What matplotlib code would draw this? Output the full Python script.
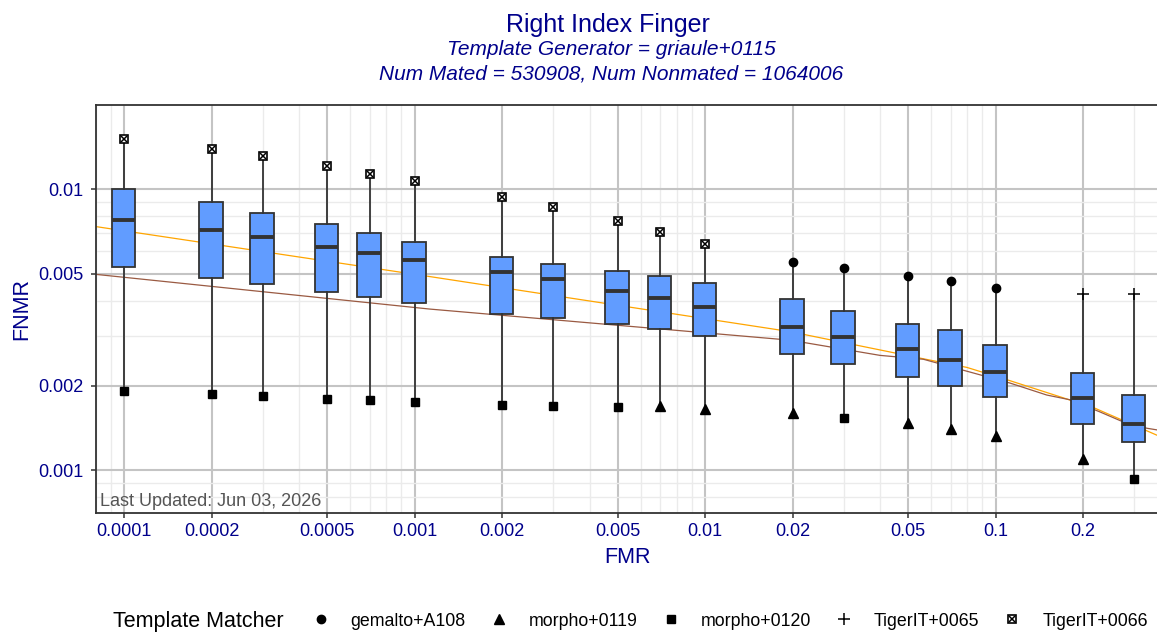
import numpy as np
import matplotlib
matplotlib.use('Agg')
import matplotlib.pyplot as plt
from matplotlib.lines import Line2D
from matplotlib.legend_handler import HandlerTuple
from matplotlib.ticker import FixedLocator, LogLocator, FuncFormatter, NullFormatter

plt.rcParams['font.family'] = ['Liberation Sans', 'DejaVu Sans']

# Box data
fmr = [0.0001, 0.0002, 0.0003, 0.0005, 0.0007, 0.001, 0.002, 0.003, 0.005,
       0.007, 0.01, 0.02, 0.03, 0.05, 0.07, 0.1, 0.2, 0.3]
q1 = [0.00529, 0.00481, 0.00459, 0.00429, 0.00413, 0.00393, 0.0036, 0.00348, 0.0033,
      0.00318, 0.002995, 0.00259, 0.00238, 0.00215, 0.00199, 0.00182, 0.001464, 0.001257]
med = [0.00776, 0.00712, 0.00676, 0.00624, 0.0059, 0.00557, 0.00505, 0.0048, 0.00432,
       0.0041, 0.0038, 0.00324, 0.00298, 0.00269, 0.00246, 0.002226, 0.001805, 0.00146]
q3 = [0.0100, 0.00902, 0.00822, 0.00751, 0.00697, 0.00649, 0.00572, 0.00543, 0.00511,
      0.00491, 0.00464, 0.00405, 0.00368, 0.0033, 0.00314, 0.00278, 0.002213, 0.001845]
hi = [0.01503, 0.01383, 0.01309, 0.01204, 0.01133, 0.01065, 0.00934, 0.00861, 0.00768,
      0.00702, 0.00638, 0.00551, 0.00525, 0.00491, 0.00472, 0.00446, 0.00423, 0.00423]
lo = [0.00191, 0.001864, 0.001834, 0.00179, 0.001776, 0.001746, 0.0017, 0.001686, 0.001673,
      0.001686, 0.001655, 0.0016, 0.001533, 0.001472, 0.001406, 0.001323, 0.001096, 0.000931]
hi_matcher = ['TigerIT+0066'] * 11 + ['gemalto+A108'] * 5 + ['TigerIT+0065'] * 2
lo_matcher = (['morpho+0120'] * 9 + ['morpho+0119'] * 3 + ['morpho+0120']
              + ['morpho+0119'] * 4 + ['morpho+0120'])

matchers = ['gemalto+A108', 'morpho+0119', 'morpho+0120', 'TigerIT+0065', 'TigerIT+0066']

# reference curves
orange_fmr = [8.0e-5, 0.00113, 0.0196, 0.0564, 0.0796, 0.1122, 0.217, 0.36]
orange_fnmr = [0.00735, 0.00488, 0.00311, 0.00249, 0.00232, 0.00208, 0.00167, 0.00133]
brown_fmr = [8.0e-5, 0.00113, 0.0196, 0.0221, 0.040, 0.0564, 0.1122, 0.150, 0.180,
             0.229, 0.2685, 0.331, 0.36]
brown_fnmr = [0.00497, 0.00374, 0.0029, 0.00284, 0.00256, 0.00248, 0.00204, 0.00185,
              0.00178, 0.00161, 0.00150, 0.00141, 0.00139]

navy = '#00008B'
dark = '#333333'

# marker style per matcher
def marker_kw(m):
    if m == 'gemalto+A108':
        return [dict(marker='o', ms=6, mfc='black', mec='black')]
    if m == 'morpho+0119':
        return [dict(marker='^', ms=7, mfc='black', mec='black')]
    if m == 'morpho+0120':
        return [dict(marker='s', ms=5.8, mfc='black', mec='black')]
    if m == 'TigerIT+0065':
        return [dict(marker='+', ms=9, mew=1.1, color='black')]
    return [dict(marker='s', ms=6.4, mfc='white', mec='black', mew=1.2),
            dict(marker='x', ms=3.8, mew=1.1, color='black')]

fig = plt.figure(figsize=(11.57, 6.35), dpi=100)
W, H = 1157, 635
ax = fig.add_axes([96 / W, 1 - 513 / H, (1160 - 96) / W, (513 - 105) / H])
ax.set_xscale('log')
ax.set_yscale('log')
ax.set_xlim(8.0e-5, 0.368)
ax.set_ylim(0.000704, 0.0199)

ax.plot(orange_fmr, orange_fnmr, color='#FFA500', lw=0.9, zorder=2)
ax.plot(brown_fmr, brown_fnmr, color='#9A5A42', lw=0.9, zorder=2)

stats = [dict(med=m, q1=a, q3=b, whislo=l, whishi=h, fliers=[])
         for m, a, b, l, h in zip(med, q1, q3, lo, hi)]
widths = [f * (10 ** 0.0405 - 10 ** -0.0405) for f in fmr]
bp = ax.bxp(stats, positions=fmr, widths=widths, patch_artist=True, showcaps=False,
            manage_ticks=False,
            boxprops=dict(facecolor='#619CFF', edgecolor=dark, linewidth=1.3),
            medianprops=dict(color=dark, linewidth=2.8, solid_capstyle='butt'),
            whiskerprops=dict(color=dark, linewidth=1.3))
for art in bp['boxes'] + bp['medians'] + bp['whiskers']:
    art.set_zorder(3)

for x, y, m in zip(fmr, hi, hi_matcher):
    for kw in marker_kw(m):
        ax.plot([x], [y], ls='none', zorder=4, **kw)
for x, y, m in zip(fmr, lo, lo_matcher):
    for kw in marker_kw(m):
        ax.plot([x], [y], ls='none', zorder=4, **kw)

# axes styling
ax.xaxis.set_major_locator(FixedLocator([1e-4, 2e-4, 5e-4, 1e-3, 2e-3, 5e-3, 0.01, 0.02, 0.05, 0.1, 0.2]))
ax.yaxis.set_major_locator(FixedLocator([0.001, 0.002, 0.005, 0.01]))
fmt = FuncFormatter(lambda v, _: f'{v:g}')
ax.xaxis.set_major_formatter(fmt)
ax.yaxis.set_major_formatter(fmt)
for a in (ax.xaxis, ax.yaxis):
    a.set_minor_locator(LogLocator(base=10, subs=(3, 4, 6, 7, 8, 9), numticks=50))
    a.set_minor_formatter(NullFormatter())
ax.grid(which='major', color='#C4C4C4', lw=1.5, zorder=0)
ax.grid(which='minor', color='#EBEBEB', lw=1.0, zorder=0)
ax.set_axisbelow(True)
ax.tick_params(which='major', length=3.6, width=1.1, color=dark, labelcolor=navy,
               labelsize=13)
ax.tick_params(axis='x', pad=3.5)
ax.tick_params(axis='y', pad=5.5)
ax.tick_params(which='minor', length=0)
for s in ax.spines.values():
    s.set_color(dark)
    s.set_linewidth(1.3)

ax.set_xlabel('FMR', color=navy, fontsize=15.5, labelpad=5)
ax.set_ylabel('FNMR', color=navy, fontsize=15.5, labelpad=4)

ax.text(0.004, 0.008, 'Last Updated: Jun 03, 2026', transform=ax.transAxes,
        color='#555555', fontsize=13, ha='left', va='bottom')

fig.text(608 / W, 1 - 31.7 / H, 'Right Index Finger', color=navy, fontsize=18,
         ha='center', va='baseline')
fig.text(611 / W, 1 - 55 / H, 'Template Generator = griaule+0115', color=navy,
         fontsize=15, style='italic', ha='center', va='baseline')
fig.text(611 / W, 1 - 79 / H, 'Num Mated = 530908, Num Nonmated = 1064006', color=navy,
         fontsize=15, style='italic', ha='center', va='baseline')

# legend
handles = []
for m in matchers:
    parts = [Line2D([], [], ls='none', **kw) for kw in marker_kw(m)]
    handles.append(tuple(parts))
fig.text(113 / W, 1 - 621 / H, 'Template Matcher', fontsize=15.5, color='black',
         ha='left', va='center')
fig.legend(handles, matchers, handler_map={tuple: HandlerTuple(ndivide=1)},
           ncol=5, loc='center left', bbox_to_anchor=(311.8 / W, 1 - 621 / H),
           frameon=False, fontsize=12.8, handlelength=1.0, handletextpad=1.19,
           columnspacing=1.35, borderpad=0, borderaxespad=0)

fig.savefig('out.png', dpi=100)
